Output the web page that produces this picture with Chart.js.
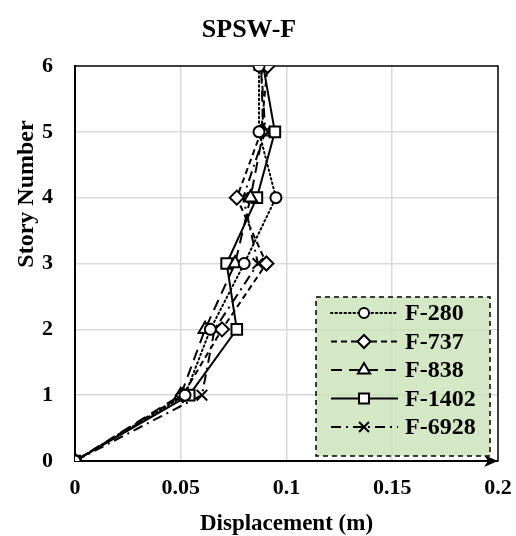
<!DOCTYPE html>
<html>
<head>
<meta charset="utf-8">
<script src="https://cdn.jsdelivr.net/npm/chart.js@4.4.1/dist/chart.umd.min.js"></script>
<style>
  html, body { margin: 0; padding: 0; background: #fff; }
  #wrap { width: 516px; height: 536px; }
</style>
</head>
<body>
<div id="wrap"><canvas id="drift"></canvas></div>
<script>
// story levels and peak displacement per record (m)
var storyLevels = [0, 1, 2, 3, 4, 5, 6];
var seriesNames = ['F-280', 'F-737', 'F-838', 'F-1402', 'F-6928'];
var dispF280 = [0, 0.052, 0.064, 0.080, 0.095, 0.087, 0.087];
var dispF737 = [0, 0.051, 0.0695, 0.0905, 0.0765, 0.088, 0.091];
var dispF838 = [0, 0.050, 0.0615, 0.0757, 0.083, 0.089, 0.088];
var dispF1402 = [0, 0.054, 0.0765, 0.0717, 0.086, 0.0945, 0.089];
var dispF6928 = [0, 0.060, 0.066, 0.0865, 0.0795, 0.090, 0.088];
var xTickLabels = ['0', '0.05', '0.1', '0.15', '0.2'];
var yTickLabels = ['0', '1', '2', '3', '4', '5', '6'];

var serif = '"Liberation Serif", "Times New Roman", serif';

function toPoints(disp) {
    return disp.map(function(d, i) { return { x: d, y: storyLevels[i] }; });
}

var styles = [
    { dash: [1.5, 3], point: 'circle', radius: 5.5, cap: 'round' },
    { dash: [6, 4], point: 'rectRot', radius: 7, cap: 'butt' },
    { dash: [11, 7], point: 'triangle', radius: 7.5, cap: 'butt' },
    { dash: [], point: 'rect', radius: 7.5, cap: 'butt' },
    { dash: [10, 5, 2, 5], point: 'crossRot', radius: 7.5, cap: 'butt' }
];
var allDisp = [dispF280, dispF737, dispF838, dispF1402, dispF6928];

var datasets = allDisp.map(function(d, i) {
    var s = styles[i];
    return {
        label: seriesNames[i],
        data: toPoints(d),
        showLine: true,
        borderColor: '#000',
        borderWidth: 2,
        borderDash: s.dash,
        borderCapStyle: s.cap,
        pointStyle: s.point,
        pointRadius: s.radius,
        pointBorderWidth: 2,
        pointBackgroundColor: '#fff',
        pointBorderColor: '#000',
        tension: 0
    };
});

// top/right frame, arrow head on the x axis, y axis title
var framePlugin = {
    id: 'frame',
    beforeDatasetsDraw: function(chart) {
        var a = chart.chartArea, ctx = chart.ctx;
        ctx.save();
        ctx.strokeStyle = '#000';
        ctx.lineWidth = 1.5;
        ctx.beginPath();
        ctx.moveTo(a.left, a.top);
        ctx.lineTo(a.right, a.top);
        ctx.lineTo(a.right, a.bottom);
        ctx.stroke();
        ctx.fillStyle = '#000';
        ctx.beginPath();
        ctx.moveTo(a.right, a.bottom);
        ctx.lineTo(a.right - 14, a.bottom - 6);
        ctx.lineTo(a.right - 10, a.bottom);
        ctx.lineTo(a.right - 14, a.bottom + 6);
        ctx.closePath();
        ctx.fill();

        ctx.translate(27, 194);
        ctx.rotate(-Math.PI / 2);
        ctx.font = 'bold 24px ' + serif;
        ctx.textAlign = 'center';
        ctx.textBaseline = 'middle';
        ctx.fillText('Story Number', 0, 0);
        ctx.restore();
    }
};

// boxed legend with line sample + marker
var legendPlugin = {
    id: 'boxLegend',
    afterDraw: function(chart) {
        var ctx = chart.ctx;
        var box = { left: 316, top: 297, right: 490, bottom: 456 };
        ctx.save();
        ctx.fillStyle = 'rgba(197, 224, 178, 0.75)';
        ctx.fillRect(box.left, box.top, box.right - box.left, box.bottom - box.top);
        ctx.setLineDash([5, 4]);
        ctx.lineWidth = 1.5;
        ctx.strokeStyle = '#000';
        ctx.strokeRect(box.left, box.top, box.right - box.left, box.bottom - box.top);
        chart.data.datasets.forEach(function(ds, i) {
            var y = 313 + i * 28.5;
            ctx.setLineDash(ds.borderDash);
            ctx.lineCap = ds.borderCapStyle;
            ctx.lineWidth = ds.borderWidth;
            ctx.beginPath();
            ctx.moveTo(331, y);
            ctx.lineTo(398, y);
            ctx.stroke();
            ctx.setLineDash([]);
            ctx.lineCap = 'butt';
            ctx.fillStyle = '#fff';
            ctx.lineWidth = ds.pointBorderWidth;
            Chart.helpers.drawPoint(ctx, { pointStyle: ds.pointStyle, radius: ds.pointRadius - 0.5, borderWidth: ds.pointBorderWidth, rotation: 0 }, 364, y);
            ctx.fillStyle = '#000';
            ctx.font = 'bold 24px ' + serif;
            ctx.textBaseline = 'middle';
            ctx.textAlign = 'left';
            ctx.fillText(ds.label, 405, y + 1);
        });
        ctx.restore();
    }
};

new Chart(document.getElementById('drift'), {
    type: 'scatter',
    data: { datasets: datasets },
    plugins: [framePlugin, legendPlugin],
    options: {
        responsive: true,
        maintainAspectRatio: false,
        animation: false,
        layout: { padding: { left: 0, right: 18, top: 0, bottom: 0 } },
        plugins: {
            legend: { display: false },
            tooltip: { enabled: false },
            title: {
                display: true,
                text: 'SPSW-F',
                color: '#000',
                font: { family: serif, size: 26, weight: 'bold' },
                padding: { top: 14.5, bottom: 20.3 }
            }
        },
        scales: {
            x: {
                type: 'linear',
                min: 0,
                max: 0.2,
                afterFit: function(s) {
                    s.height = 75;
                    s.paddingLeft = 0;
                    s.paddingRight = 0;
                },
                ticks: {
                    stepSize: 0.05,
                    color: '#000',
                    padding: 14,
                    maxRotation: 0,
                    font: { family: serif, size: 22, weight: 'bold' },
                    callback: function(v, i) { return xTickLabels[i]; }
                },
                grid: {
                    drawTicks: false,
                    color: function(c) {
                        return (c.tick && c.tick.value > 0 && c.tick.value < 0.2) ? '#d9d9d9' : 'rgba(0,0,0,0)';
                    },
                    lineWidth: 1.5
                },
                border: { display: true, color: '#000', width: 2 },
                title: {
                    display: true,
                    text: 'Displacement (m)',
                    color: '#000',
                    font: { family: serif, size: 23, weight: 'bold', lineHeight: 1 },
                    padding: { top: 8, bottom: 0 }
                }
            },
            y: {
                type: 'linear',
                min: 0,
                max: 6,
                afterFit: function(s) {
                    s.width = 75;
                    s.paddingTop = 0;
                    s.paddingBottom = 0;
                },
                ticks: {
                    stepSize: 1,
                    color: '#000',
                    padding: 22,
                    font: { family: serif, size: 22, weight: 'bold' },
                    callback: function(v, i) { return yTickLabels[i]; }
                },
                grid: {
                    drawTicks: false,
                    color: function(c) {
                        return (c.tick && c.tick.value > 0 && c.tick.value < 6) ? '#d9d9d9' : 'rgba(0,0,0,0)';
                    },
                    lineWidth: 1.5
                },
                border: { display: true, color: '#000', width: 2 }
            }
        }
    }
});
</script>
</body>
</html>
